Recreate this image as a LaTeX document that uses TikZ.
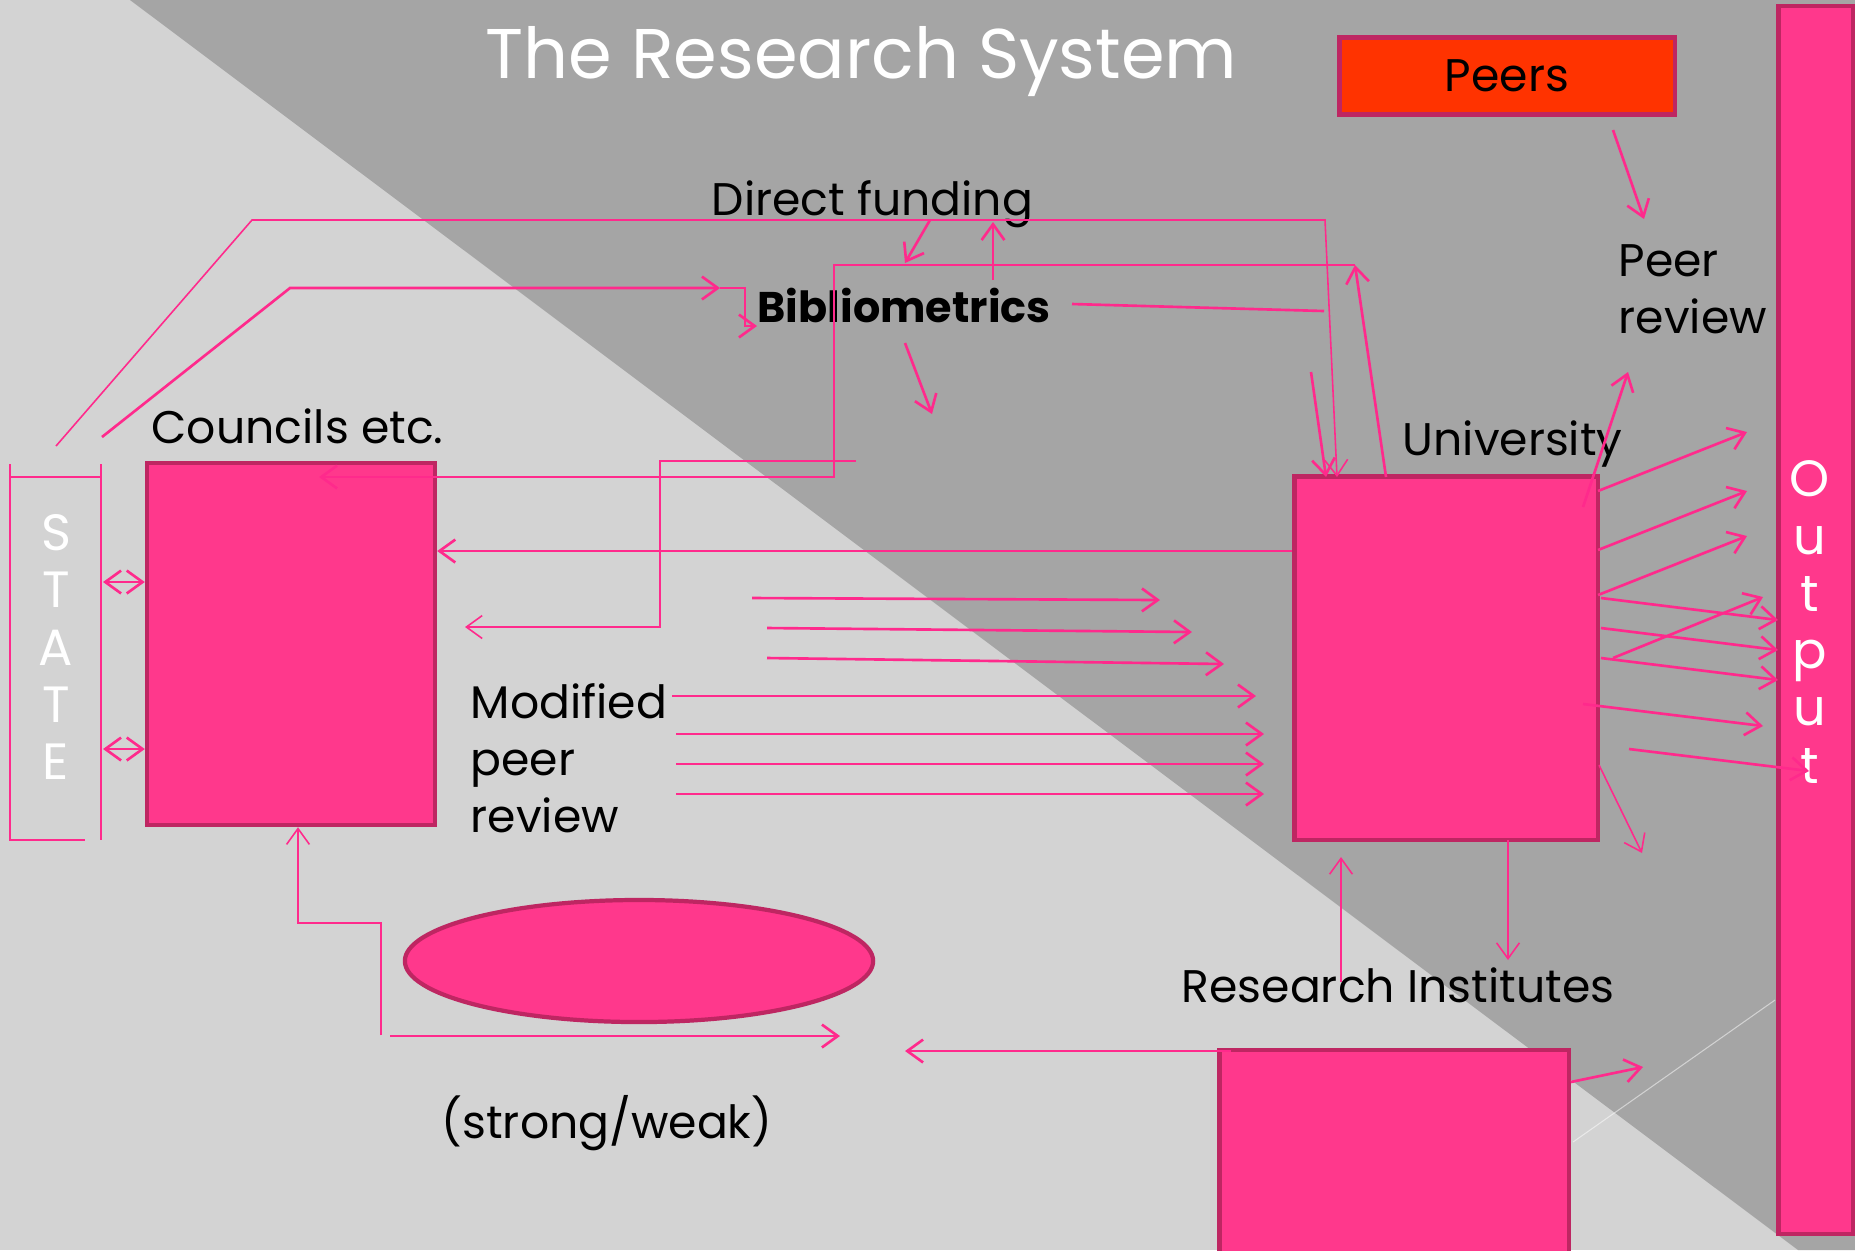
\documentclass[tikz,border=0pt]{standalone}
\usepackage{fontspec}
\setmainfont{Poppins}
\usetikzlibrary{arrows.meta,shapes.geometric}

\definecolor{bglight}{RGB}{211,211,211}
\definecolor{bgdark}{RGB}{165,165,165}
\definecolor{boxpink}{RGB}{255,56,140}
\definecolor{boxedge}{RGB}{190,38,98}
\definecolor{linkpink}{RGB}{255,42,140}
\definecolor{peersred}{RGB}{255,51,0}

\tikzset{
  box/.style={draw=boxedge, fill=boxpink, line width=1.2pt, inner sep=0pt},
  conn/.style={draw=linkpink, line width=0.75pt},
  thinconn/.style={draw=linkpink, line width=0.45pt},
  lbl/.style={font=\fontsize{13}{16.2}\selectfont, anchor=base west, inner sep=0pt},
  letters/.style={text=white, align=center, inner sep=0pt, font=\fontsize{14.5}{16.3}\selectfont},
  >={Straight Barb[length=4.5pt,width=6.5pt]}
}

\begin{document}
\begin{tikzpicture}[x=0.01cm,y=-0.01cm]
             \useasboundingbox (0,0) rectangle (1855,1250);
             % background
             \fill[bglight] (0,0) rectangle (1855,1250);
             \fill[bgdark] (130,0) -- (1855,0) -- (1855,1250) -- (1798,1250) -- cycle;
             \draw[white, opacity=.5, line width=.3pt] (1775,1000) -- (1573,1142);

             \node[text=white, font=\fontsize{20}{24}\selectfont, anchor=base west, inner sep=0pt] (title) at (485,78) {The Research System};

             % boxes
             \node[box, minimum width=2.88cm, minimum height=3.62cm] (councils) at (291,644) {};
             \node[box, minimum width=3.03cm, minimum height=3.63cm] (univ) at (1446,658) {};
             \node[box, minimum width=3.49cm, minimum height=2.12cm] (inst) at (1394,1156) {};
             \node[box, minimum width=0.75cm, minimum height=12.27cm] (output) at (1816,620) {};
             \node[box, fill=peersred, minimum width=3.35cm, minimum height=0.77cm, font=\fontsize{13}{16}\selectfont] (peers) at (1507,76) {Peers};
             \node[box, ellipse, minimum width=4.68cm, minimum height=1.22cm] (bond) at (639,961) {};

             % labels
             \node[lbl] (funding) at (711,215) {Direct funding};
             \node[lbl, font=\fontsize{12.2}{16}\selectfont\bfseries] (biblio) at (757,322) {Bibliometrics};
             \node[lbl] (councilslbl) at (151,443) {Councils etc.};
             \node[lbl] (univlbl) at (1402,455) {University};
             \node[lbl, align=left] (peerrev) at (1618,333) {Peer\\review};
             \node[lbl, align=left] (modpeer) at (470,832) {Modified\\peer\\review};
             \node[lbl] (instlbl) at (1181,1002) {Research Institutes};
             \node[lbl] (strength) at (441,1138) {(strong/weak)};
             \node[letters] (state) at (56,647) {S\\T\\A\\T\\E};
             \node[letters] (outlbl) at (1810,622) {O\\u\\t\\p\\u\\t};

             % state frame
             \draw[thinconn] (10,464) -- (10,840) -- (85,840);
             \draw[thinconn] (101,464) -- (101,840);
             \draw[thinconn] (10,477) -- (101,477);
             \draw[conn, <->] (103,582) -- (councils.west |- 0,582);
             \draw[conn, <->] (103,749) -- (councils.west |- 0,749);

             % direct funding route
             \coordinate (f1) at (56,446);
             \coordinate (f2) at (252,220);
             \coordinate (f3) at (1325,220);
             \draw[thinconn, ->] (f1) -- (f2) -- (f3) -- (1337,477);
             \coordinate (b1) at (102,437);
             \coordinate (b2) at (290,288);
             \coordinate (b3) at (720,288);
             \draw[conn, ->] (b1) -- (b2) -- (b3);
             \draw[conn, ->] (b3) -- (745,288) -- (745,326) -- (biblio.west |- 0,326);
             \draw[conn, ->] (930,220) -- (905,263);
             \draw[conn, ->] (993,280) -- (993,222);
             \draw[conn] (1072,304) -- (1324,311);
             \draw[conn, ->] (905,343) -- (932,414);
             \draw[conn, ->] (1311,372) -- (1326,477);

             % return routes to councils
             \coordinate (r1) at (1355,265);
             \draw[conn, ->] (1386,477) -- (r1);
             \draw[conn, ->] (r1) -- (834,265) -- (834,477) -- (319,477);
             \draw[conn, ->] (univ.west |- 0,551) -- (councils.east |- 0,551);
             \draw[thinconn, ->] (856,461) -- (660,461) -- (660,627) -- (465,627);

             % modified peer review
             \foreach \i/\xa/\ya/\xb/\yb in {1/752/598/1160/600, 2/767/628/1192/632, 3/767/658/1224/664,
                                            4/672/696/1256/696, 5/676/734/1264/734, 6/676/764/1264/764, 7/676/794/1264/794}
               {\coordinate (m\i) at (\xa,\ya);
                \coordinate (n\i) at (\xb,\yb);
                \draw[conn, ->] (m\i) -- (n\i);}

             % peer review and output
             \draw[conn, ->] (1613,130) -- (1644,219);
             \draw[conn, ->] (1583,507) -- (1628,372);
             \foreach \i/\xa/\ya/\xb/\yb in {1/1598/491/1747/432, 2/1598/550/1747/491, 3/1598/595/1747/536,
                                            4/1601/598/1778/620, 5/1601/628/1778/650, 6/1601/658/1778/680,
                                            7/1613/658/1763/597, 8/1583/704/1763/726, 9/1629/749/1809/771}
               {\coordinate (o\i) at (\xa,\ya);
                \coordinate (p\i) at (\xb,\yb);
                \draw[conn, ->] (o\i) -- (p\i);}
             \draw[thinconn, ->] (1599,765) -- (1642,853);

             % research institutes
             \draw[thinconn, ->] (1508,840) -- (1508,960);
             \draw[thinconn, ->] (1341,982) -- (1341,857);
             \draw[conn, ->] (1231,1051) -- (905,1051);
             \draw[conn, ->] (inst.east |- 0,1082) -- (1643,1067);

             % councils and the ellipse
             \draw[thinconn, ->] (381,1035) -- (381,923) -- (298,923) -- (councils.south -| 298,0);
             \draw[conn, ->] (390,1036) -- (840,1036);
\end{tikzpicture}
\end{document}
